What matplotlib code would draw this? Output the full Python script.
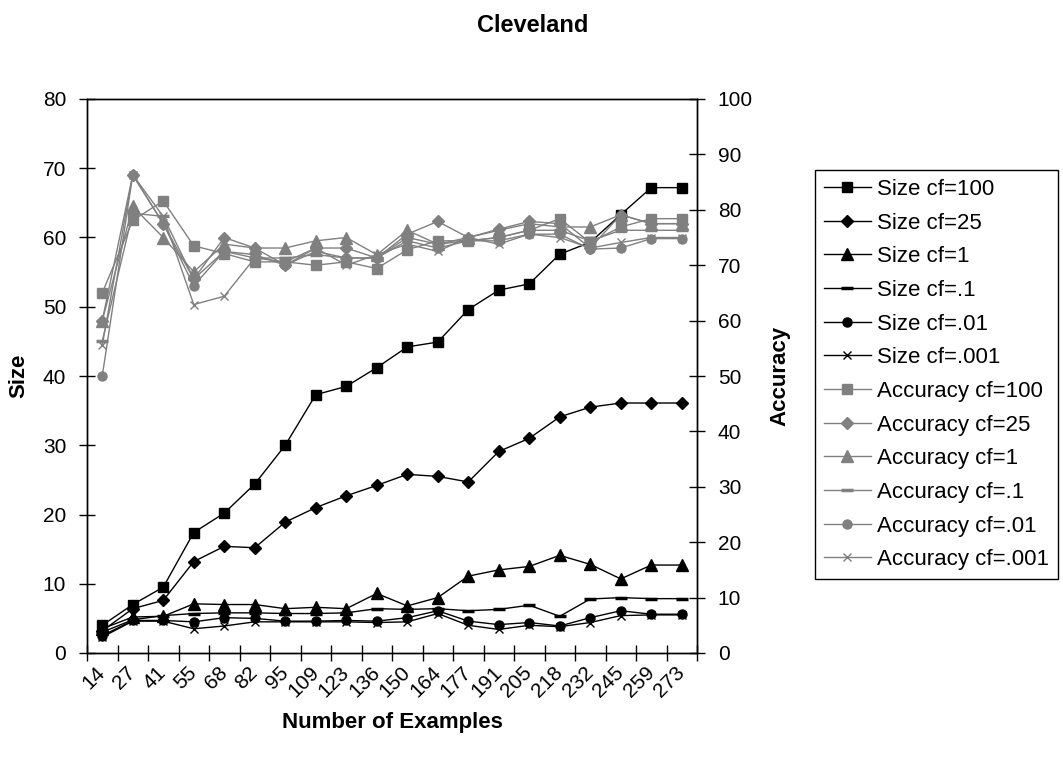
import matplotlib
matplotlib.use("Agg")
import matplotlib.pyplot as plt
import numpy as np

plt.rcParams['font.family'] = ['Liberation Sans', 'DejaVu Sans']

# Nombre d'exemples (axe X, catégories)
examples = [14, 27, 41, 55, 68, 82, 95, 109, 123, 136,
            150, 164, 177, 191, 205, 218, 232, 245, 259, 273]

# Taille de l'arbre (axe gauche)
size_cf100 = [4.0, 7.0, 9.5, 17.4, 20.2, 24.4, 30.0, 37.3, 38.5, 41.2,
              44.2, 44.9, 49.6, 52.4, 53.3, 57.6, 59.3, 63.3, 67.2, 67.2]
size_cf25 = [3.2, 6.4, 7.6, 13.2, 15.4, 15.2, 18.9, 21.0, 22.7, 24.2,
             25.8, 25.5, 24.7, 29.1, 31.0, 34.1, 35.5, 36.1, 36.1, 36.1]
size_cf1 = [3.5, 5.2, 5.3, 7.1, 7.0, 7.0, 6.4, 6.6, 6.4, 8.6,
            6.8, 8.0, 11.1, 12.0, 12.5, 14.1, 12.8, 10.7, 12.7, 12.7]
size_cf01 = [3.0, 4.8, 5.4, 5.7, 5.8, 5.8, 5.7, 5.7, 5.8, 6.4,
             6.3, 6.4, 6.1, 6.3, 6.9, 5.3, 7.8, 8.0, 7.85, 7.85]
size_cf001 = [2.5, 4.7, 4.7, 4.5, 5.1, 5.0, 4.6, 4.6, 4.7, 4.6,
              5.1, 6.1, 4.6, 4.1, 4.4, 3.9, 5.1, 6.1, 5.6, 5.6]
size_cf0001 = [2.3, 4.6, 4.6, 3.5, 3.9, 4.5, 4.5, 4.5, 4.5, 4.4,
               4.5, 5.7, 4.0, 3.4, 4.0, 3.8, 4.4, 5.4, 5.5, 5.5]

# Précision (axe droit)
acc_cf100 = [65.0, 78.1, 81.6, 73.5, 72.1, 70.6, 70.6, 70.0, 70.6, 69.4,
             72.8, 74.4, 74.4, 75.0, 76.3, 78.4, 74.1, 76.9, 78.4, 78.4]
acc_cf25 = [60.0, 86.3, 77.5, 67.5, 75.0, 73.1, 70.0, 73.1, 73.1, 71.3,
            75.6, 77.9, 75.0, 76.5, 77.9, 77.5, 73.1, 79.1, 77.5, 77.5]
acc_cf1 = [60.0, 80.6, 75.0, 68.8, 73.8, 73.1, 73.1, 74.4, 75.0, 71.9,
           76.3, 73.8, 75.0, 76.3, 77.5, 76.9, 76.9, 79.1, 77.5, 77.5]
acc_cf01 = [56.3, 79.4, 78.8, 67.5, 72.5, 71.3, 71.3, 71.9, 71.3, 71.3,
            75.0, 73.8, 74.4, 75.0, 76.3, 76.3, 74.4, 76.3, 76.3, 76.3]
acc_cf001 = [50.0, 86.3, 77.5, 66.3, 72.5, 71.9, 70.0, 72.5, 71.3, 71.3,
             74.4, 73.1, 74.4, 74.4, 75.6, 75.6, 72.9, 73.1, 74.8, 74.8]
acc_cf0001 = [55.6, 86.3, 78.8, 62.9, 64.4, 71.3, 70.6, 73.1, 70.0, 71.9,
              73.8, 72.5, 75.0, 73.8, 75.6, 75.0, 73.1, 74.1, 75.0, 75.0]

x = np.arange(len(examples))
gris = '#808080'

fig = plt.figure(figsize=(10.63, 7.61), dpi=100)
ax = fig.add_axes([87 / 1063, 1 - 653 / 761, 610 / 1063, 554 / 761])
ax2 = ax.twinx()

# Courbes de taille (noir)
series_size = [
    (size_cf100, 's', 7, 1, 'Size cf=100'),
    (size_cf25, 'D', 6.5, 1, 'Size cf=25'),
    (size_cf1, '^', 8, 1, 'Size cf=1'),
    (size_cf01, '_', 8, 2.5, 'Size cf=.1'),
    (size_cf001, 'o', 6.5, 1, 'Size cf=.01'),
    (size_cf0001, 'x', 6, 1, 'Size cf=.001'),
]
handles = []
for vals, mk, ms, mew, lab in series_size:
    h, = ax.plot(x, vals, color='black', lw=1, marker=mk, ms=ms, mew=mew,
                 label=lab)
    handles.append(h)

# Courbes de précision (gris)
series_acc = [
    (acc_cf100, 's', 7, 1, 'Accuracy cf=100'),
    (acc_cf25, 'D', 6.5, 1, 'Accuracy cf=25'),
    (acc_cf1, '^', 8, 1, 'Accuracy cf=1'),
    (acc_cf01, '_', 8, 2.5, 'Accuracy cf=.1'),
    (acc_cf001, 'o', 6.5, 1, 'Accuracy cf=.01'),
    (acc_cf0001, 'x', 6, 1, 'Accuracy cf=.001'),
]
for vals, mk, ms, mew, lab in series_acc:
    h, = ax2.plot(x, vals, color=gris, lw=1, marker=mk, ms=ms, mew=mew,
                  label=lab)
    handles.append(h)

ax.set_xlim(-0.5, len(examples) - 0.5)
ax.set_ylim(0, 80)
ax2.set_ylim(0, 100)
ax.set_yticks(np.arange(0, 81, 10))
ax2.set_yticks(np.arange(0, 101, 10))

ax.set_xticks(x)
ax.set_xticklabels([str(e) for e in examples], rotation=45, ha='right',
                   va='center', rotation_mode='anchor')
ax.set_xticks(np.arange(-0.5, len(examples)), minor=True)
ax.tick_params(axis='x', which='major', length=0, pad=12, labelsize=15)
ax.tick_params(axis='x', which='minor', length=12, direction='inout', width=1)
ax.tick_params(axis='y', length=12, direction='inout', width=1, pad=9,
               labelsize=15)
ax2.tick_params(axis='y', length=12, direction='inout', width=1, pad=9,
                labelsize=15)

for a in (ax, ax2):
    for s in a.spines.values():
        s.set_linewidth(1)
        s.set_color('black')

ax.set_ylabel('Size', fontsize=16, fontweight='bold')
ax.yaxis.set_label_coords(-0.094, 0.5)
ax2.set_ylabel('Accuracy', fontsize=16, fontweight='bold')
ax2.yaxis.set_label_coords(1.118, 0.5)
ax.set_xlabel('Number of Examples', fontsize=16, fontweight='bold')
ax.xaxis.set_label_coords(0.5, -0.107)

fig.text(533 / 1063, 1 - 25 / 761, 'Cleveland', fontsize=17,
         fontweight='bold', ha='center', va='center')

leg = fig.legend(handles=handles, loc='upper left',
                 bbox_to_anchor=(815 / 1063, 1 - 170 / 761), fontsize=16,
                 frameon=True, fancybox=False, framealpha=1, borderpad=0.4,
                 labelspacing=0.57, handlelength=2.1, handletextpad=0.3,
                 borderaxespad=0)
leg.get_frame().set_edgecolor('black')
leg.get_frame().set_linewidth(1)

fig.savefig('out.png', dpi=100)
